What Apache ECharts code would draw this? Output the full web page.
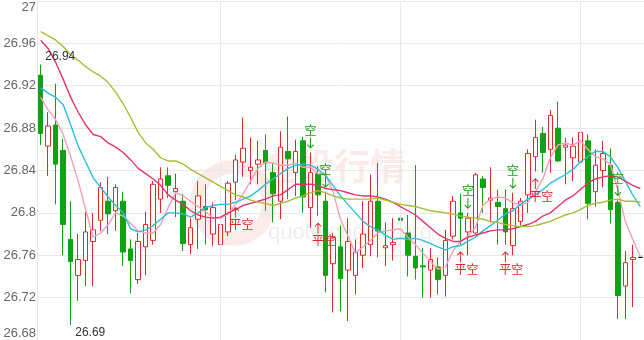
<!DOCTYPE html>
<html><head><meta charset="utf-8">
<script src="https://cdn.jsdelivr.net/npm/echarts@6/dist/echarts.min.js"></script>
<style>html,body{margin:0;padding:0;background:#fff}#c{width:644px;height:340px}</style>
</head><body><div id="c"></div>
<script>
const cats = ['1','2','3','4','5','6','7','8','9','10','11','12','13','14','15','16','17','18','19','20','21','22','23','24','25','26','27','28','29','30','31','32','33','34','35','36','37','38','39','40','41','42','43','44','45','46','47','48','49','50','51','52','53','54','55','56','57','58','59','60','61','62','63','64','65','66','67','68','69','70','71','72','73','74','75','76','77','78','79','80','81'];
const openV = [26.930,26.863,26.883,26.859,26.775,26.741,26.755,26.773,26.793,26.811,26.802,26.811,26.766,26.737,26.768,26.774,26.813,26.835,26.820,26.811,26.770,26.794,26.806,26.780,26.770,26.782,26.829,26.848,26.840,26.846,26.859,26.838,26.811,26.858,26.838,26.868,26.805,26.837,26.811,26.752,26.768,26.746,26.741,26.760,26.770,26.811,26.767,26.770,26.795,26.781,26.759,26.750,26.746,26.749,26.741,26.778,26.800,26.782,26.781,26.832,26.812,26.810,26.804,26.769,26.792,26.817,26.853,26.875,26.860,26.880,26.862,26.852,26.848,26.868,26.820,26.840,26.845,26.810,26.731,26.756,26.758];
const closeV = [26.875,26.882,26.846,26.789,26.754,26.756,26.782,26.784,26.824,26.799,26.824,26.763,26.755,26.773,26.789,26.827,26.832,26.826,26.823,26.771,26.786,26.816,26.803,26.805,26.789,26.828,26.850,26.861,26.843,26.850,26.847,26.818,26.862,26.851,26.858,26.815,26.838,26.817,26.741,26.777,26.738,26.773,26.763,26.780,26.811,26.783,26.769,26.772,26.793,26.760,26.748,26.749,26.756,26.737,26.774,26.811,26.795,26.795,26.836,26.824,26.814,26.806,26.782,26.804,26.811,26.856,26.871,26.857,26.892,26.849,26.864,26.863,26.876,26.809,26.845,26.856,26.803,26.722,26.753,26.758,26.758];
const lowV = [26.864,26.835,26.808,26.760,26.694,26.717,26.731,26.731,26.783,26.780,26.783,26.750,26.724,26.733,26.741,26.770,26.800,26.814,26.796,26.764,26.761,26.766,26.770,26.769,26.744,26.778,26.812,26.834,26.827,26.827,26.802,26.791,26.794,26.813,26.816,26.800,26.786,26.797,26.725,26.706,26.707,26.698,26.723,26.748,26.759,26.758,26.750,26.755,26.752,26.740,26.737,26.720,26.720,26.723,26.721,26.775,26.770,26.760,26.780,26.800,26.791,26.770,26.770,26.760,26.788,26.800,26.839,26.838,26.838,26.848,26.827,26.830,26.836,26.794,26.806,26.824,26.790,26.700,26.700,26.711,26.758];
const highV = [26.940,26.895,26.922,26.870,26.811,26.780,26.801,26.800,26.829,26.834,26.827,26.820,26.775,26.781,26.801,26.830,26.843,26.843,26.837,26.818,26.795,26.830,26.827,26.810,26.800,26.830,26.855,26.890,26.871,26.868,26.874,26.847,26.877,26.891,26.869,26.872,26.857,26.844,26.820,26.781,26.788,26.795,26.775,26.811,26.836,26.847,26.791,26.795,26.805,26.798,26.845,26.767,26.767,26.758,26.784,26.816,26.818,26.800,26.838,26.835,26.843,26.822,26.822,26.819,26.814,26.860,26.888,26.881,26.897,26.905,26.871,26.871,26.886,26.874,26.860,26.868,26.861,26.812,26.764,26.770,26.758];
const maPink = [26.909,26.897,26.888,26.874,26.853,26.830,26.803,26.777,26.781,26.789,26.800,26.797,26.790,26.783,26.781,26.781,26.789,26.805,26.819,26.816,26.811,26.806,26.801,26.795,26.795,26.799,26.808,26.818,26.830,26.842,26.848,26.847,26.845,26.845,26.847,26.843,26.843,26.837,26.837,26.820,26.794,26.778,26.762,26.768,26.774,26.781,26.783,26.784,26.785,26.777,26.770,26.762,26.754,26.747,26.749,26.764,26.773,26.778,26.786,26.807,26.813,26.815,26.814,26.810,26.807,26.810,26.820,26.832,26.852,26.864,26.866,26.864,26.868,26.860,26.853,26.851,26.846,26.822,26.792,26.775,26.759];
const maCyan = [26.918,26.913,26.909,26.902,26.883,26.863,26.848,26.833,26.824,26.815,26.807,26.800,26.785,26.782,26.784,26.788,26.794,26.800,26.800,26.799,26.796,26.800,26.805,26.807,26.808,26.808,26.810,26.813,26.816,26.821,26.827,26.832,26.837,26.842,26.845,26.846,26.845,26.841,26.835,26.826,26.816,26.808,26.800,26.792,26.787,26.784,26.779,26.775,26.776,26.775,26.776,26.774,26.771,26.768,26.765,26.768,26.769,26.773,26.777,26.783,26.788,26.793,26.799,26.802,26.808,26.813,26.817,26.822,26.828,26.832,26.836,26.841,26.848,26.853,26.858,26.858,26.853,26.843,26.830,26.817,26.806];
const maRed = [26.963,26.955,26.942,26.926,26.909,26.895,26.883,26.874,26.872,26.866,26.862,26.857,26.850,26.842,26.837,26.832,26.826,26.817,26.812,26.808,26.802,26.798,26.796,26.795,26.796,26.800,26.803,26.807,26.809,26.811,26.813,26.816,26.817,26.822,26.827,26.827,26.827,26.826,26.823,26.822,26.821,26.819,26.817,26.816,26.816,26.815,26.813,26.810,26.806,26.802,26.798,26.792,26.786,26.780,26.776,26.773,26.773,26.777,26.779,26.781,26.783,26.784,26.784,26.785,26.787,26.789,26.792,26.797,26.800,26.806,26.812,26.816,26.822,26.828,26.832,26.834,26.835,26.834,26.830,26.826,26.823];
const maOlive = [26.971,26.967,26.963,26.957,26.949,26.944,26.938,26.933,26.929,26.923,26.914,26.903,26.890,26.876,26.866,26.860,26.852,26.849,26.849,26.846,26.841,26.837,26.833,26.829,26.825,26.821,26.817,26.815,26.812,26.810,26.809,26.807,26.809,26.811,26.814,26.816,26.819,26.821,26.819,26.816,26.814,26.813,26.813,26.813,26.813,26.814,26.812,26.810,26.808,26.807,26.806,26.804,26.802,26.801,26.800,26.799,26.797,26.796,26.795,26.794,26.792,26.791,26.789,26.788,26.787,26.787,26.788,26.790,26.792,26.795,26.798,26.800,26.803,26.807,26.809,26.810,26.812,26.813,26.811,26.811,26.810];
const shortIdx = [36, 38, 57, 63, 77];
const coverIdx = [26, 37, 56, 62, 66];
const dividerIdx = [24, 48, 72];
const yTicks = {min: 26.68, max: 27, interval: 0.04};

const RED = '#dc2b2b', GREEN = '#13a013';
const ohlc = cats.map((c, i) => [openV[i], closeV[i], lowV[i], highV[i]]);
const downArrow = 'path://M3,0 L4,0 L4,9 L6.3,6.7 L7,7.4 L3.5,11 L0,7.4 L0.7,6.7 L3,9 Z';
const upArrow = 'path://M3,11 L4,11 L4,2 L6.3,4.3 L7,3.6 L3.5,0 L0,3.6 L0.7,4.3 L3,2 Z';
const mp = [];
shortIdx.forEach(i => mp.push({
  coord: [cats[i], highV[i]], symbol: downArrow, symbolSize: [7, 11], symbolOffset: [0, -9.5],
  itemStyle: {color: GREEN},
  label: {show: true, formatter: '空', position: 'top', distance: 1, color: GREEN, fontSize: 12, fontFamily: 'Noto Sans CJK SC'}
}));
coverIdx.forEach(i => mp.push({
  coord: [cats[i], lowV[i]], symbol: upArrow, symbolSize: [7, 11], symbolOffset: [0, 12],
  itemStyle: {color: RED},
  label: {show: true, formatter: '平空', position: 'bottom', distance: 1, offset: [6, 0], color: RED, fontSize: 12, fontFamily: 'Noto Sans CJK SC'}
}));
mp.push({type: 'max', valueDim: 'highest', symbol: 'circle', symbolSize: 1, itemStyle: {color: 'rgba(0,0,0,0)'},
  label: {show: true, position: [5, -1], align: 'left', verticalAlign: 'bottom', color: '#333', fontSize: 12, fontFamily: 'Liberation Sans, Arial', formatter: p => p.value.toFixed(2)}});
mp.push({type: 'min', valueDim: 'lowest', symbol: 'circle', symbolSize: 1, itemStyle: {color: 'rgba(0,0,0,0)'},
  label: {show: true, position: [5, 2], align: 'left', verticalAlign: 'top', color: '#333', fontSize: 12, fontFamily: 'Liberation Sans, Arial', formatter: p => p.value.toFixed(2)}});

function maSeries(name, data, color) {
  return {name, type: 'line', data, symbol: 'none', smooth: false, z: 5,
    lineStyle: {color, width: 1.4}, itemStyle: {color}, silent: true};
}

const chart = echarts.init(document.getElementById('c'), null, {renderer: 'canvas'});
chart.setOption({
  animation: false,
  backgroundColor: '#fff',
  grid: {left: 37, top: 1, width: 607, height: 340, containLabel: false},
  graphic: [
    {type: 'text', left: 262, top: 148, z: -10, style: {text: '金投行情', fontSize: 36, fontWeight: 'bold', fill: 'rgba(226,80,80,0.12)', fontFamily: 'Noto Sans CJK SC'}},
    {type: 'text', left: 268, top: 222, z: -10, style: {text: 'quote.cngold.org', fontSize: 22, fill: 'rgba(0,0,0,0.07)', fontFamily: 'Liberation Sans, Arial'}},
    {type: 'circle', left: 190, top: 160, z: -10, shape: {r: 36}, style: {fill: 'none', stroke: 'rgba(226,80,80,0.12)', lineWidth: 14}}
  ],
  xAxis: {type: 'category', data: cats, boundaryGap: true,
    axisLine: {show: false}, axisTick: {show: false}, axisLabel: {show: false}, splitLine: {show: false}},
  yAxis: {type: 'value', min: yTicks.min, max: yTicks.max, interval: yTicks.interval, scale: true,
    axisLine: {show: true, lineStyle: {color: '#e6e6e6'}}, axisTick: {show: false},
    axisLabel: {color: '#666', fontSize: 13, margin: 1, fontFamily: 'Liberation Sans, Arial',
      verticalAlignMaxLabel: 'top', verticalAlignMinLabel: 'bottom'},
    splitLine: {lineStyle: {color: '#e8e8e8', width: 1}}},
  series: [
    {type: 'candlestick', data: ohlc, barWidth: 5, z: 3,
      itemStyle: {color: '#fff', color0: GREEN, borderColor: RED, borderColor0: GREEN, borderColorDoji: '#000', borderWidth: 1},
      markLine: {silent: true, symbol: 'none', label: {show: false},
        lineStyle: {color: '#e8e8e8', type: 'solid', width: 1},
        data: dividerIdx.map(i => ({xAxis: cats[i]}))},
      markPoint: {data: mp, z: 10}},
    maSeries('MA5', maPink, '#f5a0b8'),
    maSeries('MA10', maCyan, '#2fbcd8'),
    maSeries('MA20', maRed, '#e2356f'),
    maSeries('MA60', maOlive, '#a6bd38')
  ]
});
</script></body></html>
